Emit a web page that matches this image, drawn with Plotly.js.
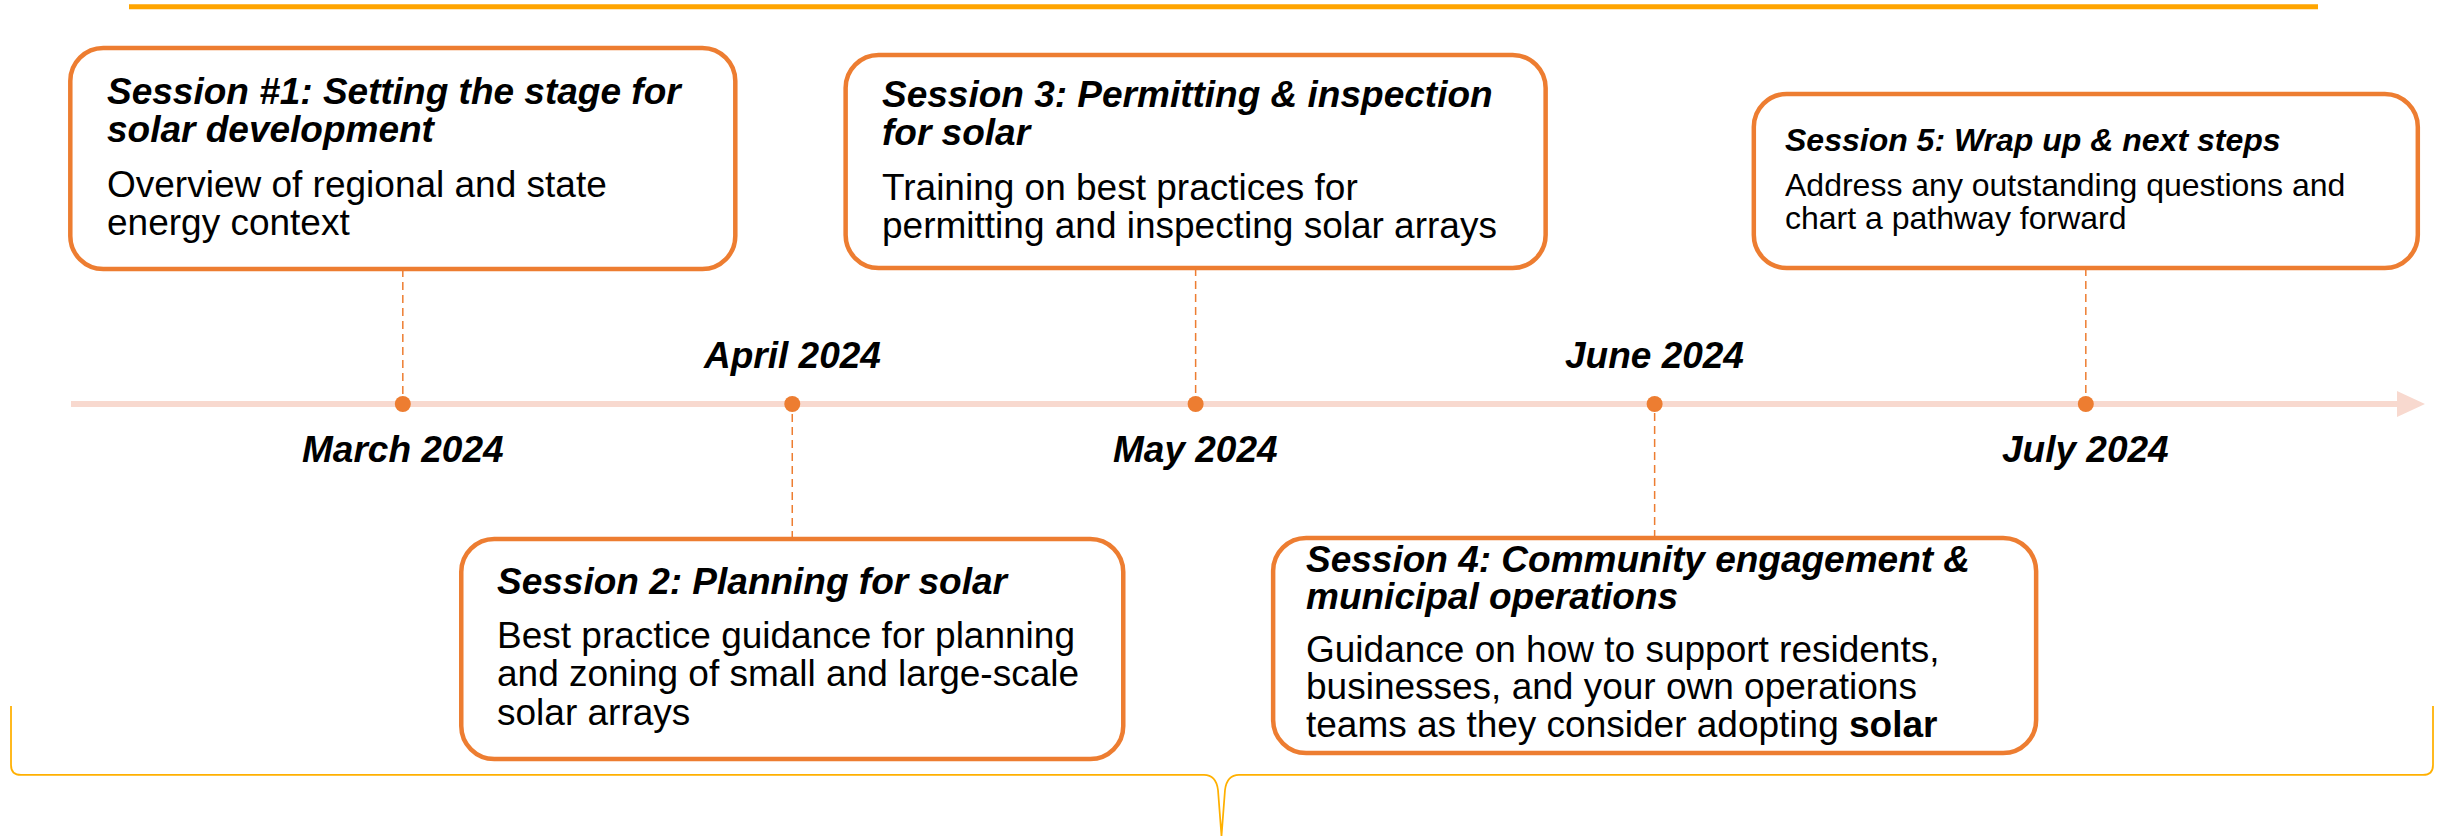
<!DOCTYPE html>
<html>
<head>
<meta charset="utf-8">
<script src="https://cdn.plot.ly/plotly-3.0.1.min.js"></script>
<style>
  html, body { margin: 0; padding: 0; background: #ffffff; }
  #chart { width: 2443px; height: 836px; }
</style>
</head>
<body>
<div id="chart"></div>
<script>
// ---------------- DATA ----------------
const sessionDates = ['2024-03-12', '2024-04-09', '2024-05-08', '2024-06-10', '2024-07-11'];
const monthLabels = ['March 2024', 'April 2024', 'May 2024', 'June 2024', 'July 2024'];
const sessionTitles = [
  ['Session #1: Setting the stage for', 'solar development'],
  ['Session 2: Planning for solar'],
  ['Session 3: Permitting & inspection', 'for solar'],
  ['Session 4: Community engagement &', 'municipal operations'],
  ['Session 5: Wrap up & next steps']
];
const sessionDescs = [
  ['Overview of regional and state', 'energy context'],
  ['Best practice guidance for planning', 'and zoning of small and large-scale', 'solar arrays'],
  ['Training on best practices for', 'permitting and inspecting solar arrays'],
  ['Guidance on how to support residents,', 'businesses, and your own operations', 'teams as they consider adopting <b>solar</b>'],
  ['Address any outstanding questions and', 'chart a pathway forward']
];
const boxAbove = [true, false, true, false, true];

// ---------------- LAYOUT / STYLE ----------------
const W = 2443, H = 836;
const FONT = 'Liberation Sans, Arial, Helvetica, sans-serif';
const ORANGE = '#ED7D31';
const PINK = '#F8D9CF';
const TL_Y = 404;
const X_START = '2024-02-12 00:58';
const X_END = '2024-08-05 16:19';

// box geometry (pixels): width, top, bottom, text pad, font size, first title baseline, first body baseline, line step
const boxGeom = [
  {w: 665, top: 48,  bottom: 269, pad: 35, fs: 37, t1: 104, b1: 197, step: 38},
  {w: 662, top: 539, bottom: 759, pad: 34, fs: 37, t1: 594, b1: 648, step: 38.5},
  {w: 700, top: 55,  bottom: 268, pad: 34, fs: 37, t1: 107, b1: 200, step: 38},
  {w: 763, top: 538, bottom: 753, pad: 31, fs: 37, t1: 572, b1: 662, step: 37.5},
  {w: 664, top: 94,  bottom: 268, pad: 29, fs: 32, t1: 151, b1: 196.5, step: 32.8}
];

function parseMs(s) {
  const [d, t] = s.split(' ');
  const [y, m, day] = d.split('-').map(Number);
  let hh = 0, mm = 0;
  if (t) { [hh, mm] = t.split(':').map(Number); }
  return Date.UTC(y, m - 1, day, hh, mm);
}
const XS = parseMs(X_START), XE = parseMs(X_END);
const datePx = s => (parseMs(s) - XS) / (XE - XS) * W;

const fx = px => (px / W).toFixed(6);
const fy = py => (1 - py / H).toFixed(6);
const pt = (x, y) => fx(x) + ',' + fy(y);

function roundRect(x0, y0, x1, y1, r) {
  const k = r * 0.4477;
  return 'M' + pt(x0 + r, y0) +
    ' L' + pt(x1 - r, y0) +
    ' C' + pt(x1 - k, y0) + ' ' + pt(x1, y0 + k) + ' ' + pt(x1, y0 + r) +
    ' L' + pt(x1, y1 - r) +
    ' C' + pt(x1, y1 - k) + ' ' + pt(x1 - k, y1) + ' ' + pt(x1 - r, y1) +
    ' L' + pt(x0 + r, y1) +
    ' C' + pt(x0 + k, y1) + ' ' + pt(x0, y1 - k) + ' ' + pt(x0, y1 - r) +
    ' L' + pt(x0, y0 + r) +
    ' C' + pt(x0, y0 + k) + ' ' + pt(x0 + k, y0) + ' ' + pt(x0 + r, y0) + ' Z';
}

const shapes = [];
// top orange rule
shapes.push({type: 'line', xref: 'paper', yref: 'paper', x0: 129 / W, x1: 2318 / W,
  y0: 1 - 6.7 / H, y1: 1 - 6.7 / H, line: {color: '#FFA500', width: 5}});
// timeline bar
shapes.push({type: 'line', xref: 'paper', yref: 'paper', x0: 71 / W, x1: 2399 / W,
  y0: 1 - TL_Y / H, y1: 1 - TL_Y / H, line: {color: PINK, width: 6}, layer: 'below'});
// arrow head
shapes.push({type: 'path', xref: 'paper', yref: 'paper', layer: 'below',
  path: 'M' + pt(2397, 391) + ' L' + pt(2425, TL_Y) + ' L' + pt(2397, 417) + ' Z',
  fillcolor: PINK, line: {width: 0}});
// bottom brace
shapes.push({type: 'path', xref: 'paper', yref: 'paper',
  path: 'M' + pt(11, 706) + ' L' + pt(11, 765) + ' Q' + pt(11, 775) + ' ' + pt(21, 775) +
    ' L' + pt(1204, 775) + ' Q' + pt(1216, 775) + ' ' + pt(1218, 790) + ' L' + pt(1221.5, 836) +
    ' L' + pt(1225, 790) + ' Q' + pt(1227, 775) + ' ' + pt(1239, 775) +
    ' L' + pt(2423, 775) + ' Q' + pt(2433, 775) + ' ' + pt(2433, 765) + ' L' + pt(2433, 706),
  line: {color: '#FFB000', width: 1.75}});

const annotations = [];
const traces = [];

sessionDates.forEach((d, i) => {
  const g = boxGeom[i];
  const cx = datePx(d);
  shapes.push({type: 'path', xref: 'paper', yref: 'paper',
    path: roundRect(cx - g.w / 2, g.top, cx + g.w / 2, g.bottom, 33),
    fillcolor: '#ffffff', line: {color: ORANGE, width: 4.5}});

  const edge = boxAbove[i] ? g.bottom : g.top;
  traces.push({type: 'scatter', mode: 'lines', x: [d, d], y: [edge, TL_Y],
    line: {color: ORANGE, width: 1.5, dash: '8px,5px'}, hoverinfo: 'skip', showlegend: false});

  const off = g.fs * 0.3465;
  sessionTitles[i].forEach((line, j) => {
    annotations.push({xref: 'x', yref: 'y', x: d, y: g.t1 + j * g.step - off,
      xanchor: 'left', yanchor: 'middle', xshift: -g.w / 2 + g.pad, showarrow: false,
      text: line, align: 'left',
      font: {family: FONT, size: g.fs, color: '#000000', weight: 'bold', style: 'italic'}});
  });
  sessionDescs[i].forEach((line, j) => {
    annotations.push({xref: 'x', yref: 'y', x: d, y: g.b1 + j * g.step - off,
      xanchor: 'left', yanchor: 'middle', xshift: -g.w / 2 + g.pad, showarrow: false,
      text: line, align: 'left',
      font: {family: FONT, size: g.fs, color: '#000000'}});
  });

  const labBase = boxAbove[i] ? 462 : 368;
  annotations.push({xref: 'x', yref: 'y', x: d, y: labBase - 37 * 0.3465,
    xanchor: 'center', yanchor: 'middle', showarrow: false, text: monthLabels[i],
    font: {family: FONT, size: 37, color: '#000000', weight: 'bold', style: 'italic'}});
});

traces.push({type: 'scatter', mode: 'markers', x: sessionDates,
  y: sessionDates.map(() => TL_Y),
  marker: {size: 16, color: ORANGE, line: {width: 0}}, hoverinfo: 'skip', showlegend: false});

const layout = {
  width: W, height: H,
  margin: {l: 0, r: 0, t: 0, b: 0, pad: 0},
  paper_bgcolor: '#ffffff', plot_bgcolor: '#ffffff',
  showlegend: false,
  xaxis: {type: 'date', range: [X_START, X_END], visible: false, fixedrange: true},
  yaxis: {range: [H, 0], visible: false, fixedrange: true},
  shapes: shapes,
  annotations: annotations
};

Plotly.newPlot('chart', traces, layout, {staticPlot: true, displayModeBar: false});
</script>
</body>
</html>
